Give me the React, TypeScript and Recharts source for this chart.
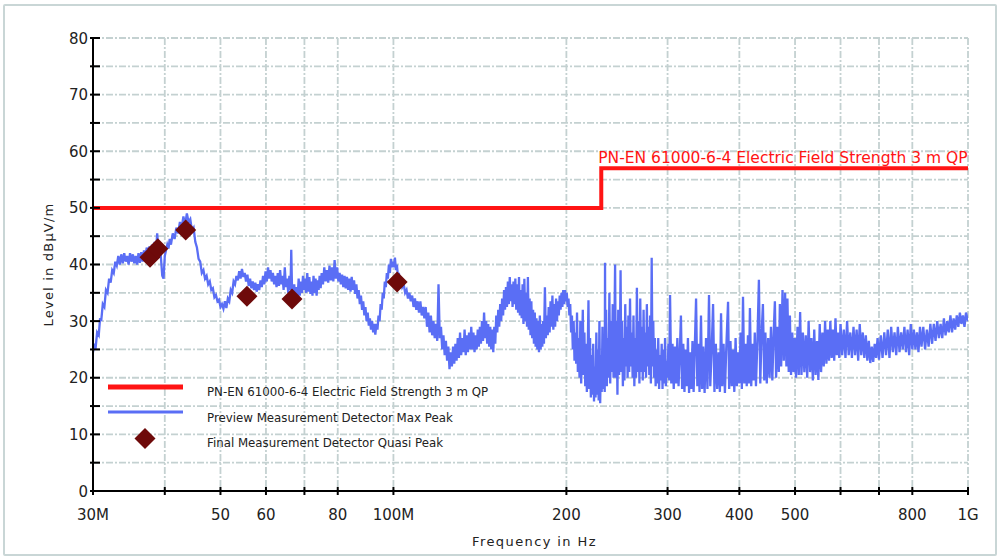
import React from "react";
import {
  ComposedChart,
  Line,
  Scatter,
  XAxis,
  YAxis,
  CartesianGrid,
  ReferenceDot,
  Legend,
} from "recharts";

const limitName = "PN-EN 61000-6-4 Electric Field Strength 3 m QP";
const previewName = "Preview Measurement Detector Max Peak";
const finalName = "Final Measurement Detector Quasi Peak";

// frequency axis (MHz), log scale
const xTicks = [30, 40, 50, 60, 70, 80, 100, 200, 300, 400, 500, 600, 700, 800, 1000];
const xTickLabels: Record<number, string> = {
  30: "30M", 50: "50", 60: "60", 80: "80", 100: "100M",
  200: "200", 300: "300", 400: "400", 500: "500", 800: "800", 1000: "1G",
};
const yTicks = [0, 5, 10, 15, 20, 25, 30, 35, 40, 45, 50, 55, 60, 65, 70, 75, 80];

// limit line
const limitFreq = [30, 230, 230, 1000];
const limitLevel = [50, 50, 57, 57];

// final quasi peak results
const qpFreq = [37.7, 38.9, 43.5, 55.6, 66.6, 101.5];
const qpLevel = [41.3, 42.8, 46.1, 34.4, 33.9, 36.9];

// preview max peak trace, pairs of [MHz, dBµV/m]
const traceRaw = [
  30.0,24.5, 30.15,26, 30.3,25, 30.5,28, 30.7,27.5, 30.86,30.5, 31.0,30, 31.2,33, 31.4,32.5, 31.6,35.5,
  31.8,35, 32.0,37.5, 32.2,36.8, 32.4,39, 32.6,38.5, 32.8,40.5, 33.0,39.8, 33.2,41.5, 33.4,40, 33.6,41.8,
  33.8,40.2, 34.0,42, 34.2,40.5, 34.4,41.5, 34.6,40, 34.8,42, 35.0,40.5, 35.2,41.8, 35.4,40.2, 35.6,41.5,
  35.8,40, 36.0,42, 36.2,40.3, 36.4,42.2, 36.6,40.5, 36.8,42.5, 37.0,41, 37.2,43, 37.4,41.2, 37.6,43.2,
  37.8,41.5, 38.0,43.5, 38.2,41.8, 38.4,44, 38.6,42, 38.8,45.5, 39.0,42.5, 39.2,44, 39.4,41, 39.6,38,
  39.8,37.5, 40.0,41.5, 40.2,42.5, 40.4,43.5, 40.6,42.8, 40.8,44.5, 41.0,43.5, 41.3,45.5, 41.6,44.5, 41.9,46.5,
  42.2,45.5, 42.5,47.5, 42.8,46.5, 43.1,48.5, 43.4,47, 43.7,49, 44.0,47.5, 44.3,48, 44.6,46, 44.9,46.5,
  45.2,44, 45.5,43, 45.8,41, 46.1,40.5, 46.4,38.5, 46.7,39, 47.0,37.5, 47.3,38, 47.6,36.5, 47.9,37,
  48.2,35.5, 48.5,35.8, 48.8,34.2, 49.1,34.6, 49.4,33.5, 49.7,33.8, 50.0,32.5, 50.3,33, 50.6,32.2, 50.9,33.5,
  51.2,32.3, 51.5,34, 51.8,33.5, 52.1,35.5, 52.4,35, 52.7,37, 53.0,36.5, 53.3,38, 53.6,37.2, 53.9,38.8,
  54.2,37.5, 54.5,39.2, 54.8,37.8, 55.1,38.5, 55.4,37, 55.7,38.2, 56.0,36.2, 56.3,37.5, 56.6,35.8, 56.9,37,
  57.2,35.5, 57.5,36.8, 57.8,35.2, 58.1,36.5, 58.4,35.5, 58.7,37.2, 59.0,36, 59.3,38, 59.6,36.5, 59.9,38.8,
  60.2,37, 60.5,39.5, 60.8,37.5, 61.1,39, 61.4,37, 61.7,38.5, 62.0,36.5, 62.3,38, 62.6,36, 62.9,38.5,
  63.2,36.2, 63.5,39, 63.8,36.5, 64.1,38, 64.4,35.5, 64.7,39.5, 65.0,36, 65.3,37.5, 65.6,35, 65.9,38,
  66.2,35.5, 66.4,42.6, 66.6,36, 66.9,34, 67.2,36.5, 67.5,33.5, 67.8,36, 68.1,34, 68.4,37.5, 68.7,34.5,
  69.0,37, 69.3,35, 69.6,38, 69.9,35.5, 70.2,37.5, 70.5,35, 70.8,38.5, 71.1,35.2, 71.4,37.8, 71.7,34.8,
  72.0,37, 72.3,34.5, 72.6,38, 72.9,35, 73.2,37.5, 73.5,34.5, 73.8,37.2, 74.1,35.5, 74.4,38, 74.7,35.8,
  75.0,38.5, 75.4,36.5, 75.8,39.5, 76.2,37, 76.6,39, 77.0,36.8, 77.4,39.8, 77.8,37.2, 78.2,39.5, 78.6,37,
  79.0,40.8, 79.4,37.5, 79.8,39.5, 80.2,37, 80.6,38.5, 81.0,36.5, 81.4,38.2, 81.8,36, 82.2,38, 82.6,35.8,
  83.0,37.8, 83.4,35.5, 83.8,37.5, 84.2,35.2, 84.6,37.8, 85.0,35.5, 85.4,37.2, 85.8,34.8, 86.2,36.5, 86.6,34,
  87.0,35.5, 87.4,33, 87.8,34.5, 88.2,32, 88.6,33.5, 89.0,31, 89.4,32.5, 89.8,30, 90.2,31.5, 90.6,29.2,
  91.0,30.5, 91.4,28.5, 91.8,30, 92.2,28, 92.6,29.5, 93.0,27.6, 93.4,29.5, 93.8,28.5, 94.2,31, 94.6,30,
  95.0,33, 95.4,32, 95.8,35, 96.2,34, 96.6,37, 97.0,36, 97.4,38.5, 97.8,37.5, 98.2,40, 98.6,38.5,
  99.0,41, 99.4,39.5, 99.8,40.5, 100.2,39.5, 100.6,41.2, 101.0,39, 101.4,40, 101.8,38, 102.2,38.5, 102.6,37,
  103.0,37.5, 103.6,36, 104.2,36.5, 104.8,35, 105.4,35.5, 106.0,34, 106.6,35, 107.2,33.5, 107.8,34.5, 108.4,32.5,
  109.0,34, 109.6,32, 110.2,33.5, 110.8,31.5, 111.4,33.5, 112.0,31, 112.6,32.5, 113.2,30.5, 113.8,32.5, 114.4,29,
  115.0,31.5, 115.6,28, 116.2,31, 116.8,27.5, 117.4,30, 118.0,27, 118.6,29.5, 119.2,26.5, 119.8,36.5, 120.4,27,
  121.0,29, 121.6,25, 122.2,27.5, 122.8,24, 123.4,26.5, 124.0,23, 124.6,25.5, 125.2,21.5, 125.8,24.5, 126.4,22,
  127.0,25.5, 127.6,22.5, 128.2,26, 128.8,23, 129.4,27, 130.0,23.5, 130.6,28, 131.2,24, 131.8,27, 132.4,24.5,
  133.0,28.5, 133.6,24, 134.2,27.5, 134.8,24.5, 135.4,28, 136.0,25, 136.6,29, 137.2,25, 137.8,28, 138.4,24.5,
  139.0,27.5, 139.6,25, 140.2,28.5, 140.8,25.5, 141.4,29, 142.0,26, 142.6,30, 143.2,26.5, 143.8,31.5, 144.4,27,
  145.0,30, 145.6,26, 146.2,29.5, 146.8,25.5, 147.4,29, 148.0,25, 148.6,28.5, 149.2,24.5, 149.8,29, 150.4,26,
  151.0,31, 151.6,28, 152.2,32, 152.8,29, 153.4,33, 154.0,30, 154.6,34, 155.2,31, 155.8,35.5, 156.4,32,
  157.0,36, 157.6,32.5, 158.2,37, 158.8,33, 159.4,37.8, 160.0,33.5, 160.6,36.5, 161.2,32.5, 161.8,37, 162.4,33,
  163.0,37.5, 163.6,32, 164.2,36.5, 164.8,31.5, 165.4,37.8, 166.0,31, 166.6,35.5, 167.2,30.5, 167.8,36.5, 168.4,29.5,
  169.0,37.5, 169.6,30, 170.2,35, 170.8,29, 171.4,37.8, 172.0,28.5, 172.6,34, 173.2,27.5, 173.8,33.5, 174.4,27,
  175.0,32, 175.6,26, 176.2,31.5, 176.8,25.5, 177.4,30.5, 178.0,25, 178.6,30, 179.2,24.5, 179.8,31, 180.4,25,
  181.0,29.5, 181.6,25.5, 182.2,30, 182.8,26, 183.5,36, 184.2,27, 184.9,31, 185.6,27.5, 186.3,32.5, 187.0,28,
  187.7,33.5, 188.4,29, 189.1,34.5, 189.8,28.5, 190.5,33, 191.2,29, 191.9,34, 192.6,30, 193.3,33.5, 194.0,31,
  194.7,34.5, 195.4,32, 196.1,35, 196.8,32.5, 197.5,35.5, 198.2,33, 198.9,35.5, 199.6,33.5, 200.3,35, 201.0,32.5,
  201.7,34, 202.4,31, 203.1,33, 203.8,28, 204.5,31, 205.2,25, 205.9,30, 206.6,23, 207.3,28, 208.0,22.5,
  208.7,31.5, 209.4,21, 210.1,27, 210.8,20, 211.5,30, 212.2,19, 212.9,25, 213.6,32, 214.3,20.5, 215.0,28,
  215.7,18.5, 216.4,26, 217.1,17.5, 217.8,24, 218.5,33.7, 219.2,18, 219.9,27, 220.6,16.5, 221.3,24, 222.0,17,
  222.7,26, 223.4,15.8, 224.1,22, 224.8,16.5, 225.5,28, 226.2,17, 226.9,25, 227.6,16, 228.3,30, 229.0,15.5,
  229.7,24, 230.4,17.5, 231.1,29, 231.8,18, 232.5,27, 233.2,17.5, 233.5,40.3, 233.8,19, 234.5,32, 235.2,18.5,
  236.0,27, 236.8,20, 237.6,35, 238.4,19, 239.2,30, 240.0,21, 240.8,33, 241.6,20, 242.4,28, 243.1,40,
  243.8,20, 244.6,30, 245.4,17, 246.2,32, 247.0,20.5, 247.8,26, 248.5,39, 249.2,21, 250.0,30, 250.8,18.5,
  251.6,27, 252.4,19.5, 253.2,33, 254.0,22, 254.8,29, 255.6,20, 256.4,31, 257.2,21, 258.1,34, 259.0,22,
  259.9,28, 260.8,20, 261.7,31, 262.6,18.5, 263.5,27, 264.4,20, 265.3,35.9, 266.2,21, 267.1,30, 268.0,19,
  268.9,34, 269.8,21, 270.7,29, 271.6,19.5, 272.5,32, 273.4,21, 274.3,28, 275.2,20, 276.1,33, 277.0,22,
  277.9,29, 278.8,20.5, 279.7,31, 280.6,19, 281.5,41.2, 282.4,22, 283.3,30, 284.2,20, 285.1,27, 286.0,18.5,
  287.0,25, 288.0,19, 289.0,27, 290.0,18, 291.0,24, 292.0,19.5, 293.0,26, 294.0,18, 295.0,25, 296.0,19,
  297.0,27, 298.0,18.5, 299.0,23, 300.0,20, 301.0,26, 302.0,19.5, 303.0,34.6, 304.5,19, 306,26, 307.5,18,
  309,25.5, 310.5,19, 312,27, 313.5,18.5, 315,24, 316.5,31, 318,18, 319.5,26, 321,17.5, 322.5,25,
  324,18.5, 325.5,27, 327,17.3, 328.5,24.5, 330,18, 331.5,26.5, 333,17.5, 334.5,25, 336.3,34, 338,18.5,
  339.5,26, 341,17.5, 343,31, 344.5,18, 346,25.5, 348,17.3, 350,27, 352,18, 354.2,34.6, 356,18.5,
  358,25, 360,33, 362,17.5, 364,26, 366,18, 368,24.5, 370,17.5, 371.7,31.4, 373.5,18.5, 375.5,26,
  377.5,17.3, 379.5,25, 382.3,33.4, 384,18, 386,26.5, 388,18.5, 390,25, 392,17.5, 394,27, 396,18.5,
  398,24.5, 400,19, 402,28, 404,18, 405.9,34.3, 408,19, 410,26, 412,18.5, 414,27.5, 415.5,19,
  417.3,32.3, 419.5,18.5, 421.5,26, 423.5,19.5, 425.5,28, 427.5,18.5, 430,26.5, 432.6,37.3, 435,19, 437,27,
  439.6,33, 442,19.5, 444,28, 446.5,19, 449,27, 451.5,20, 454,29, 456.5,19.5, 459,28, 461.2,33.5,
  463.5,20, 466,29, 468.5,21, 470.5,33, 473,22, 475.5,35.5, 478,23, 480.5,35, 483,22, 485,34,
  487.5,21, 489.8,31, 492,20.5, 494.5,28, 497,21, 499.5,27, 502,20, 505,29, 507.5,20.5, 510.3,31.6,
  513,20.5, 516,28, 519,21, 522,27.5, 525,20, 528,30, 531,21, 534,27, 537,19.5, 540,28.5,
  543,20.5, 546,26.5, 549,19.6, 552,29.5, 555,21, 558,28, 561,22, 564,30, 567,22.5, 570,28.5,
  573,23, 576,30, 579,23.5, 582,28.5, 585,23, 588,30.5, 591,24, 594,28, 597,23.5, 600,29.5,
  604,24, 608,28.5, 612,23.5, 616,30, 620,24, 624,28, 628,23.5, 632,29, 636,24, 640,28.5,
  644,23, 648,29.5, 652,24, 656,28, 660,23.5, 664,27.5, 668,23, 672,26.5, 676,22.6, 680,25.5,
  684,22.8, 688,26, 692,23.5, 696,27, 700,23.2, 705,27.5, 710,23.5, 715,28, 720,24, 725,28.5,
  730,23.5, 735,29, 740,24.5, 745,28, 750,24, 755,29, 760,24.5, 765,28, 770,25, 775,29,
  780,24.5, 785,28.5, 790,24, 795,29.5, 800,25, 805,28.5, 810,25, 815,28, 820,24.5, 825,29,
  830,25.5, 836,29, 842,25, 848,28.5, 854,25.5, 860,29.5, 866,26, 872,29.5, 878,26.5, 884,30,
  890,27, 896,29.5, 902,27, 908,30.5, 914,27.5, 920,30, 926,28, 932,31, 938,28, 944,30.5,
  950,28.5, 956,31, 962,29, 968,31.5, 974,29.5, 980,31, 986,29, 992,31.5, 1000,30,
];

const trace: { f: number; v: number }[] = [];
for (let i = 0; i < traceRaw.length; i += 2) {
  trace.push({ f: traceRaw[i], v: traceRaw[i + 1] });
}
const limitData = limitFreq.map((f, i) => ({ f, v: limitLevel[i] }));
const qpData = qpFreq.map((f, i) => ({ f, v: qpLevel[i] }));

const RED = "#ff1414";
const BLUE = "#5a6ef5";
const MAROON = "#6e0a0a";
const GRID = "#c4d1d1";
const FONT = "'DejaVu Sans', Verdana, sans-serif";

function YTick(props: any) {
  const { x, y, payload } = props;
  const v = payload.value;
  return (
    <g>
      <line x1={x - 3} x2={x + 7} y1={y} y2={y} stroke="#000" strokeWidth={2} />
      {v % 10 === 0 && (
        <text x={x - 5} y={y + 5.5} textAnchor="end" fontSize={15} fill="#222" fontFamily={FONT}>
          {v}
        </text>
      )}
    </g>
  );
}

function XTick(props: any) {
  const { x, y, payload } = props;
  const label = xTickLabels[payload.value];
  return (
    <g>
      <line x1={x} x2={x} y1={y - 4} y2={y + 4} stroke="#000" strokeWidth={2} />
      {label && (
        <text x={x} y={y + 29} textAnchor="middle" fontSize={15} fill="#222" fontFamily={FONT}>
          {label}
        </text>
      )}
    </g>
  );
}

function Diamond(props: any) {
  const { cx, cy } = props;
  const r = 10.5;
  return (
    <path
      d={`M${cx},${cy - r}L${cx + r},${cy}L${cx},${cy + r}L${cx - r},${cy}Z`}
      fill={MAROON}
    />
  );
}

function LegendBox() {
  return (
    <svg width={420} height={85} style={{ display: "block" }}>
      <line x1={8} x2={83} y1={15} y2={15} stroke={RED} strokeWidth={5} />
      <line x1={8} x2={83} y1={40} y2={40} stroke={BLUE} strokeWidth={3} />
      <path d="M45,56L55.5,66.5L45,77L34.5,66.5Z" fill={MAROON} />
      <g fontFamily={FONT} fontSize={11.8} fill="#222">
        <text x={107} y={24}>{limitName}</text>
        <text x={107} y={50}>{previewName}</text>
        <text x={107} y={75}>{finalName}</text>
      </g>
    </svg>
  );
}

export default function App() {
  return (
    <div style={{ position: "absolute", left: 0, top: 0, width: 1001, height: 559, background: "#fff" }}>
      <div
        style={{
          position: "absolute",
          left: 3,
          top: 4,
          width: 990,
          height: 548,
          border: "2px solid #c9d6d6",
          borderRadius: 2,
        }}
      />
      <div style={{ position: "absolute", left: 0, top: 0 }}>
        <ComposedChart
          width={1001}
          height={559}
          data={trace}
          margin={{ top: 38, right: 33, bottom: 0, left: 0 }}
          style={{ fontFamily: FONT }}
        >
          <CartesianGrid stroke={GRID} strokeWidth={1.8} strokeDasharray="7 2 2 2" />
          <XAxis
            dataKey="f"
            type="number"
            scale="log"
            domain={[30, 1000]}
            allowDataOverflow
            ticks={xTicks}
            interval={0}
            height={68}
            tickSize={0}
            tickMargin={0}
            tickLine={false}
            axisLine={{ stroke: "#000", strokeWidth: 2 }}
            tick={(p: any) => <XTick {...p} />}
            label={{
              content: (p: any) => {
                const vb = p.viewBox || { x: 93, y: 491, width: 875, height: 68 };
                return (
                  <text
                    x={vb.x + vb.width / 2 + 4}
                    y={vb.y + 55}
                    textAnchor="middle"
                    fontSize={13}
                    letterSpacing={1.4}
                    fill="#222"
                    fontFamily={FONT}
                  >
                    Frequency in Hz
                  </text>
                );
              },
            }}
          />
          <YAxis
            dataKey="v"
            type="number"
            domain={[0, 80]}
            ticks={yTicks}
            interval={0}
            width={93}
            tickSize={0}
            tickMargin={0}
            tickLine={false}
            axisLine={{ stroke: "#000", strokeWidth: 2 }}
            tick={(p: any) => <YTick {...p} />}
            label={{
              content: (p: any) => {
                const vb = p.viewBox || { x: 0, y: 38, width: 93, height: 453 };
                const cx = vb.x + 48;
                const cy = vb.y + vb.height / 2;
                return (
                  <text
                    x={cx}
                    y={cy}
                    transform={`rotate(-90 ${cx} ${cy})`}
                    textAnchor="middle"
                    dominantBaseline="central"
                    fontSize={13}
                    letterSpacing={1.2}
                    fill="#222"
                    fontFamily={FONT}
                  >
                    Level in dBµV/m
                  </text>
                );
              },
            }}
          />
          <Line
            data={trace}
            dataKey="v"
            type="linear"
            stroke={BLUE}
            strokeWidth={2.3}
            dot={false}
            activeDot={false}
            isAnimationActive={false}
          />
          <Line
            data={limitData}
            dataKey="v"
            type="linear"
            stroke={RED}
            strokeWidth={4}
            dot={false}
            activeDot={false}
            isAnimationActive={false}
          />
          <Scatter data={qpData} dataKey="v" fill={MAROON} shape={(p: any) => <Diamond {...p} />} isAnimationActive={false} />
          <ReferenceDot
            x={limitFreq[2]}
            y={limitLevel[2]}
            r={1}
            fill="none"
            stroke="none"
            label={{
              content: (p: any) => {
                const vb = p.viewBox || { x: 600, y: 167 };
                return (
                  <text x={vb.x - 2} y={vb.y - 4} fill={RED} fontSize={15.5} fontFamily={FONT}>
                    {limitName}
                  </text>
                );
              },
            }}
          />
          <Legend
            layout="vertical"
            align="center"
            verticalAlign="middle"
            content={() => <LegendBox />}
            wrapperStyle={{ left: 100, top: 372, width: 420, height: 85 }}
          />
        </ComposedChart>
      </div>
    </div>
  );
}
